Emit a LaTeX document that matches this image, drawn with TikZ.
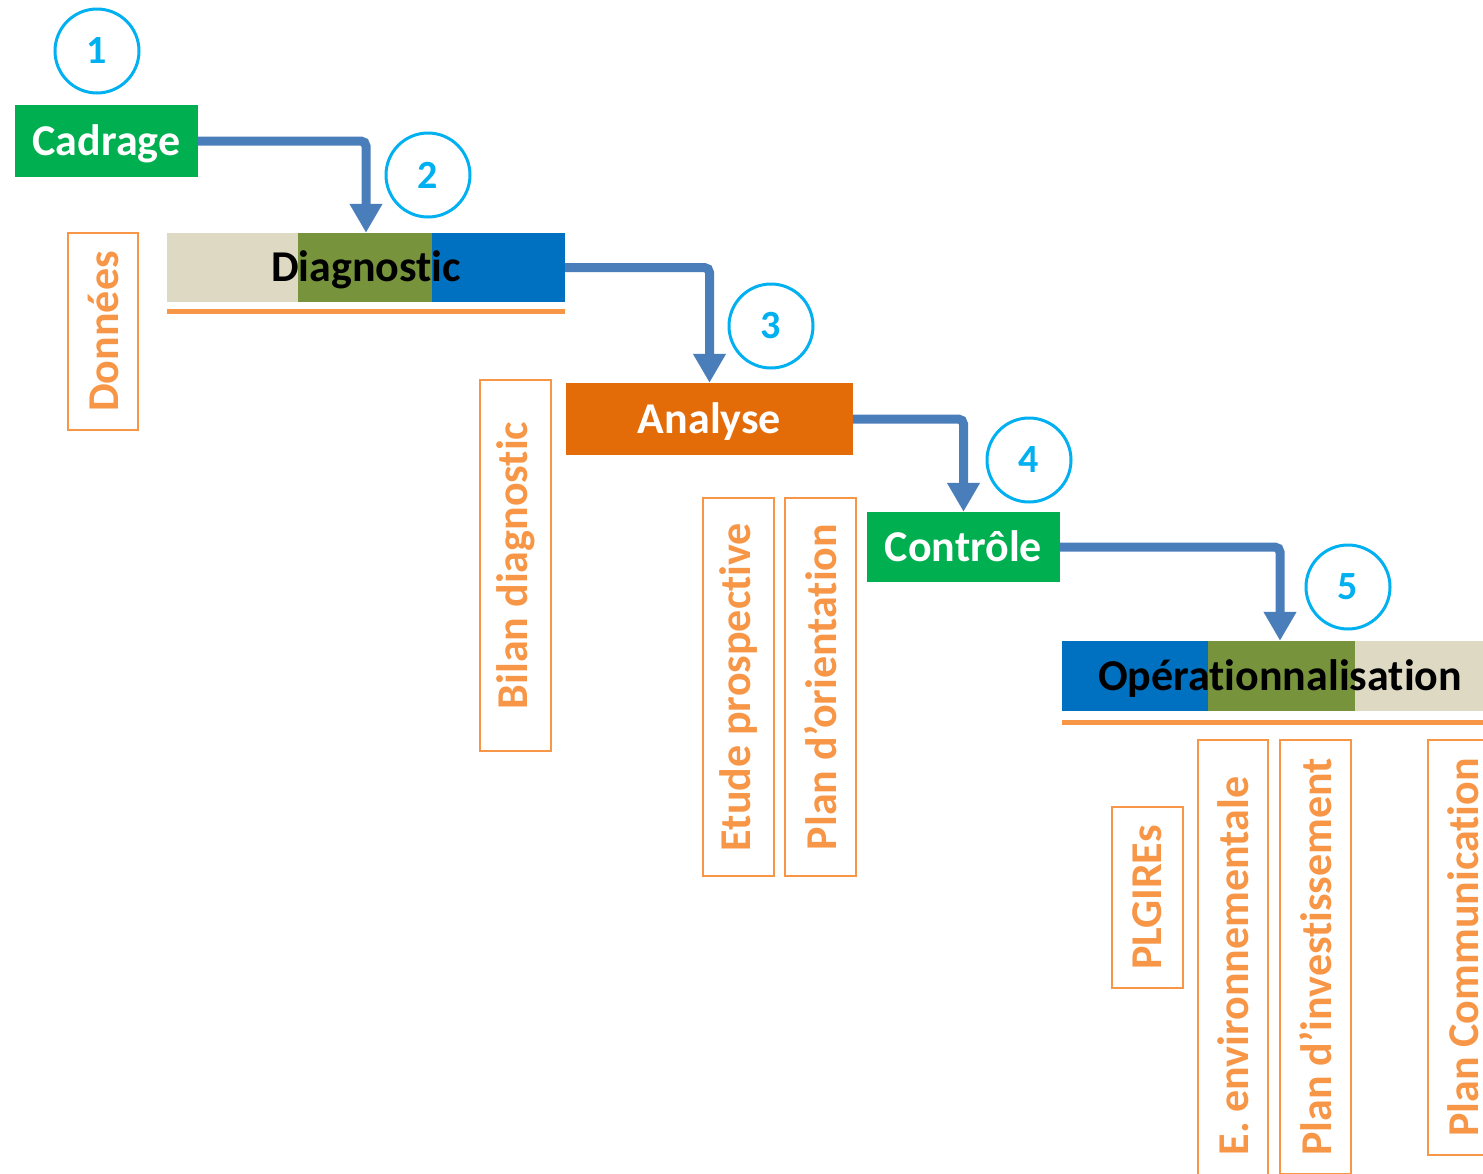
\documentclass[tikz,border=0pt]{standalone}
\usepackage{fontspec}
\setmainfont{Carlito}[Ligatures={NoCommon,NoContextual}]
\usetikzlibrary{arrows.meta}
\definecolor{cyanc}{RGB}{0,176,240}
\definecolor{greenc}{RGB}{0,176,80}
\definecolor{orangeb}{RGB}{227,108,9}
\definecolor{orangel}{RGB}{247,150,70}
\definecolor{beigec}{RGB}{221,217,195}
\definecolor{olivec}{RGB}{119,147,60}
\definecolor{bluec}{RGB}{0,112,192}
\definecolor{arrowc}{RGB}{74,126,187}
\tikzset{
  bigfont/.style={font=\fontsize{44}{50}\selectfont\bfseries},
  numcircle/.style={circle,draw=cyanc,line width=3pt,minimum size=84pt,inner sep=0pt,text=cyanc,font=\fontsize{40}{46}\selectfont\bfseries},
  stepbox/.style={bigfont,text=white,inner sep=0pt,text height=34pt,text depth=6pt},
  barnode/.style={bigfont,text=black,inner sep=0pt,text height=34pt,text depth=6pt},
  sidebox/.style={draw=orangel,line width=2pt,rotate=90,inner sep=0pt,text=orangel,bigfont},
  flow/.style={draw=arrowc,line width=9pt,rounded corners=5pt,-{Triangle[width=31pt,length=29pt]}},
  underl/.style={draw=orangel,line width=5pt}
}
\begin{document}
\begin{tikzpicture}[x=1pt,y=-1pt]
\useasboundingbox (0,0) rectangle (1483,1173);
\clip (0,0) rectangle (1483,1173);
\fill[white] (0,0) rectangle (1483,1173);
% step boxes
\node[stepbox,fill=greenc,minimum width=183pt,minimum height=72pt] (cad) at (106.5,141) {Cadrage};
\node[stepbox,fill=orangeb,minimum width=287pt,minimum height=72pt] (ana) at (709.5,419) {Analyse};
\node[stepbox,fill=greenc,minimum width=193pt,minimum height=70pt] (con) at (963.5,547) {Contrôle};
% diagnostic bar
\fill[beigec] (167,233) rectangle (298,302);
\fill[olivec] (298,233) rectangle (432,302);
\fill[bluec] (432,233) rectangle (565,302);
\node[barnode,minimum width=398pt,minimum height=69pt] (diag) at (366,267.5) {Diagnostic};
\draw[underl] ([yshift=-9pt]diag.south west) -- ([yshift=-9pt]diag.south east);
% operationnalisation bar
\fill[bluec] (1062,641) rectangle (1208,711);
\fill[olivec] (1208,641) rectangle (1355,711);
\fill[beigec] (1355,641) rectangle (1498,711);
\node[barnode,minimum width=436pt,minimum height=70pt] (oper) at (1280,676) {Opérationnalisation};
\draw[underl] ([yshift=-11pt]oper.south west) -- ([yshift=-11pt]oper.south east);
% numbers
\node[numcircle] (n1) at (97,51) {1};
\node[numcircle] (n2) at (428,175) {2};
\node[numcircle] (n3) at (771,326) {3};
\node[numcircle] (n4) at (1029,460) {4};
\node[numcircle] (n5) at (1348,587) {5};
% flow arrows
\draw[flow] (cad.east) -| (diag.north);
\draw[flow] (diag.east) -| (ana.north);
\draw[flow] (ana.east) -| (con.north);
\draw[flow] (con.east) -| (oper.north);
% side boxes
\node[sidebox,minimum width=197pt,minimum height=70pt] (don) at (103,331.5) {Données};
\node[sidebox,minimum width=371pt,minimum height=71pt] (bil) at (515.5,565.5) {Bilan diagnostic};
\node[sidebox,minimum width=378pt,minimum height=71pt] (etu) at (738.5,687) {Etude prospective};
\node[sidebox,minimum width=378pt,minimum height=71pt] (por) at (820.5,687) {Plan d’orientation};
\node[sidebox,minimum width=181pt,minimum height=71pt] (plg) at (1147.5,897.5) {PLGIREs};
\node[sidebox,minimum width=452pt,minimum height=70pt] (env) at (1233,966) {E. environnementale};
\node[sidebox,minimum width=434pt,minimum height=71pt] (inv) at (1315.5,957) {Plan d’investissement};
\node[sidebox,minimum width=415pt,minimum height=71pt] (com) at (1463.5,947.5) {Plan Communication};
\end{tikzpicture}
\end{document}
